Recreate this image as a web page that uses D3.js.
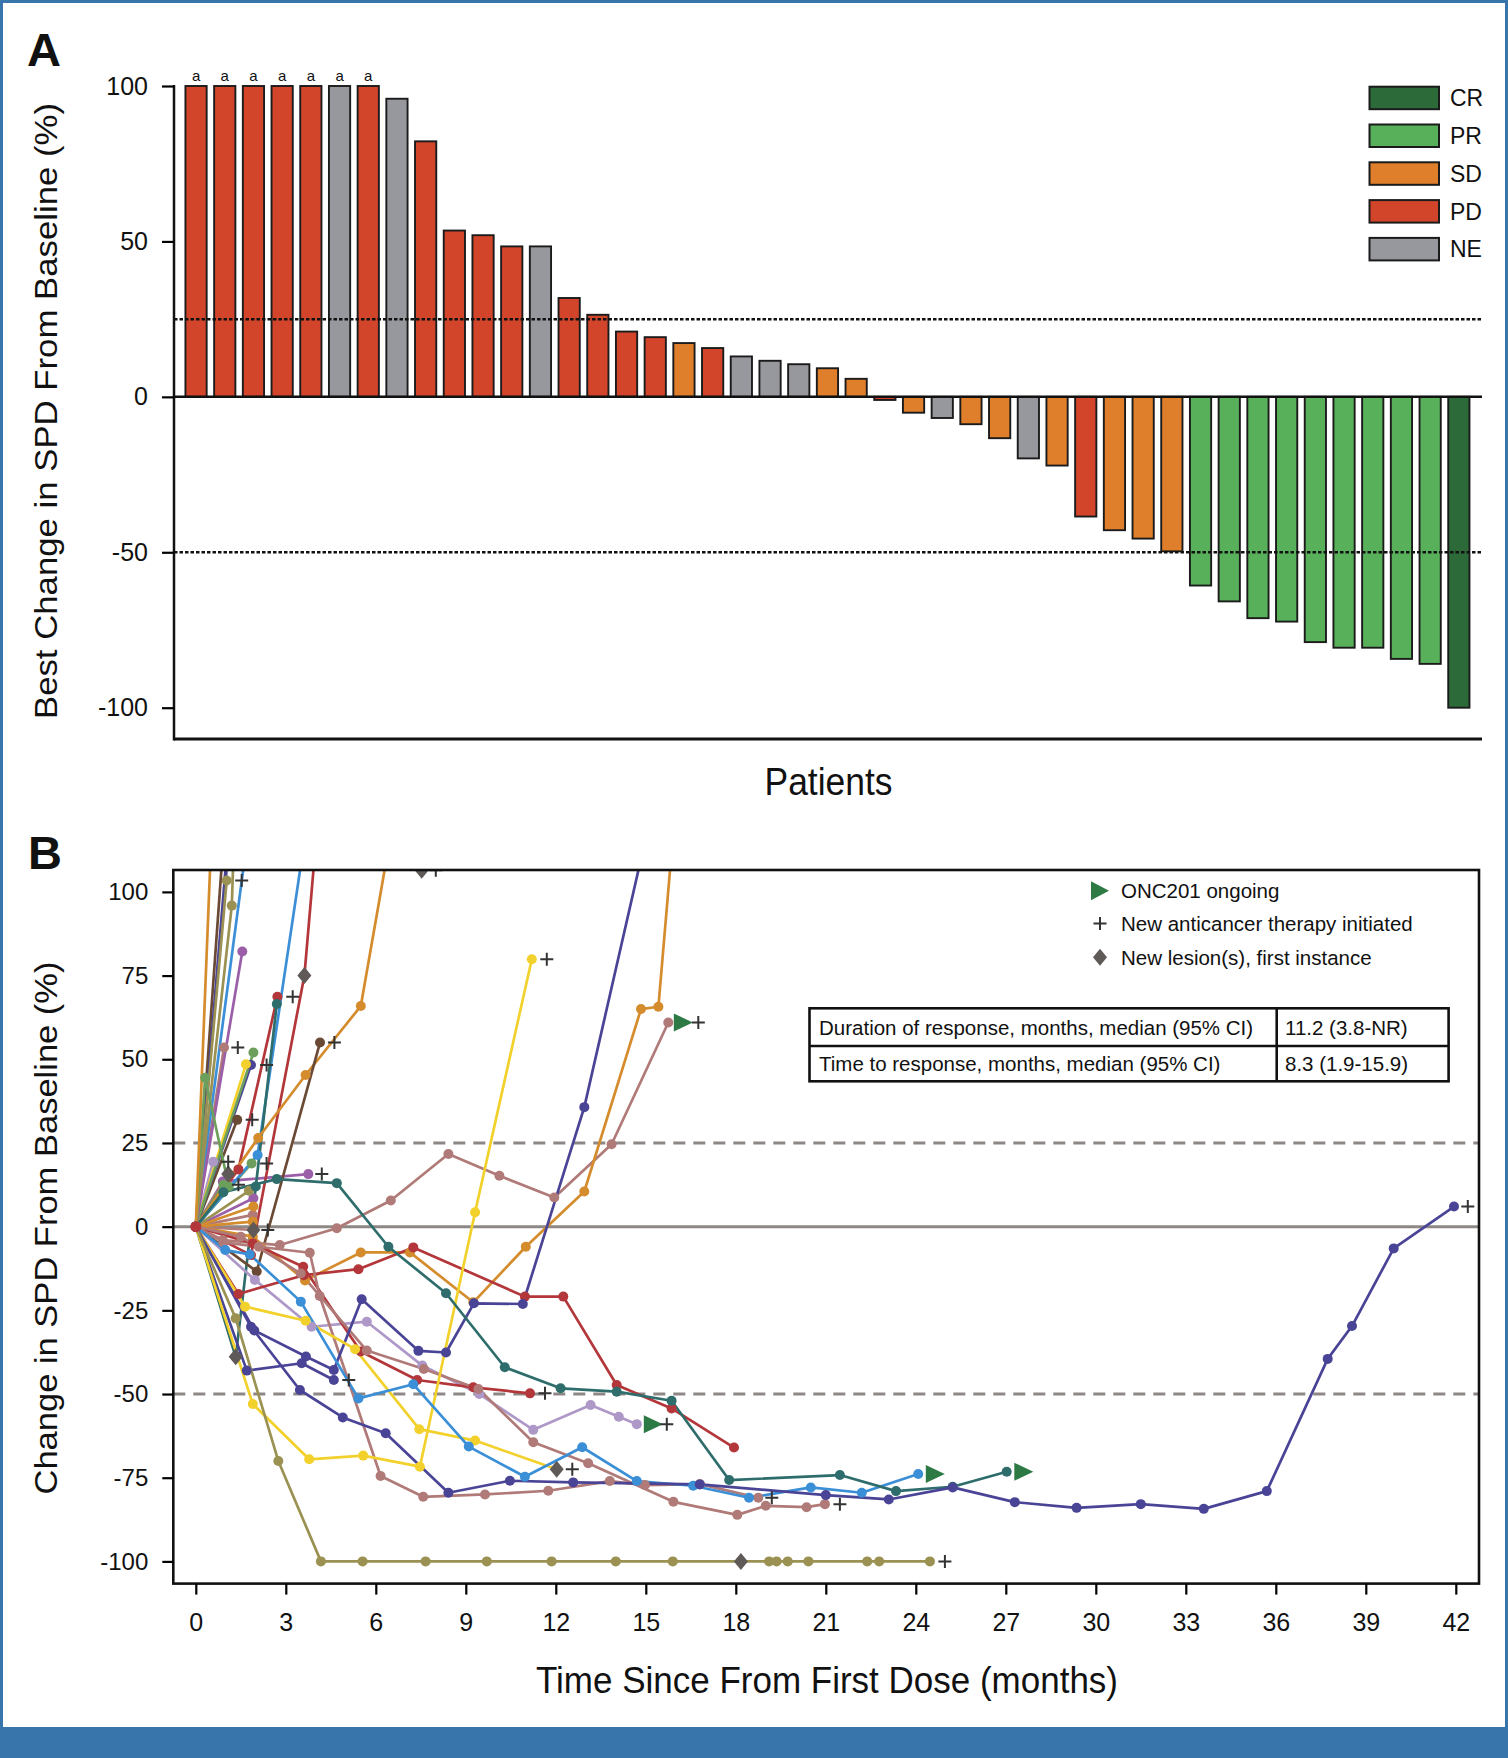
<!DOCTYPE html>
<html><head><meta charset="utf-8">
<script src="https://cdn.jsdelivr.net/npm/d3@7"></script>
<style>
body{margin:0;background:#fff}
svg{display:block}
text{font-family:"Liberation Sans",Arial,Helvetica,sans-serif;fill:#111}
</style>
</head><body>
<svg id="c" width="1508" height="1758"></svg>
<script>
// ---------------- Panel A data ----------------
const patientIds = d3.range(1, 46);
const bestChange = [100,100,100,100,100,100,100,95.9,82.2,53.5,52.0,48.4,48.4,31.8,26.4,21.0,19.2,17.3,15.7,13.0,
  11.6,10.5,9.2,5.8,-1.0,-5.1,-6.8,-8.8,-13.3,-19.8,-22.1,-38.5,-42.9,-45.6,-49.7,-60.7,-65.8,-71.2,-72.3,-78.9,
  -80.7,-80.7,-84.3,-85.9,-100];
const bestResponse = ["PD","PD","PD","PD","PD","NE","PD","NE","PD","PD","PD","PD","NE","PD","PD","PD","PD","SD","PD","NE",
  "NE","NE","SD","SD","PD","SD","NE","SD","SD","NE","SD","PD","SD","SD","SD","PR","PR","PR","PR","PR",
  "PR","PR","PR","PR","CR"];
const footnoteFlag = [1,1,1,1,1,1,1];
const responseCategories = ["CR","PR","SD","PD","NE"];
const responseColors = ["#2c6b39","#58b05a","#df7f2c","#d2452a","#97989d"];
const yTicksA = [100,50,0,-50,-100];
const thresholdsA = [25,-50];

// ---------------- Panel B data ----------------
const xTicksB = d3.range(0, 43, 3);
const yTicksB = [100,75,50,25,0,-25,-50,-75,-100];
const refDashedB = [25,-50];
const spiderColors = [
  "#9a9152","#4a4496","#2e6d6c","#3b8fd6","#f3d12c","#f3d12c","#4a4496","#4a4496","#b07a78","#b07a78",
  "#b3363a","#b3363a","#ae98c8","#d48c2d","#b07a78","#6b4a35","#d48c2d","#d48c2d","#6c9f5c","#2e6d6c",
  "#b3363a","#3b8fd6","#b3363a","#9a9152","#9a9152","#9b5ea8","#3b8fd6","#4a4496","#6b4a35","#4a4496",
  "#b07a78","#6c9f5c","#f3d12c","#4a4496","#6b4a35","#ae98c8","#6c9f5c","#6c9f5c","#b07a78","#9b5ea8",
  "#9a9152","#d48c2d","#d48c2d","#b07a78","#9b5ea8","#b07a78"
];
const spiderSeries = [
  [[0,0],[1.33,-27.4],[2.75,-70],[4.17,-100],[5.56,-100],[7.66,-100],[9.70,-100],[11.86,-100],[14.0,-100],[15.9,-100],[18.17,-100],[19.11,-100],[19.36,-100],[19.73,-100],[20.42,-100],[22.38,-100],[22.78,-100],[24.47,-100]],
  [[0,0],[1.84,-29.9],[3.47,-48.8],[4.9,-57],[6.33,-61.7],[8.42,-79.5],[10.47,-75.9],[12.58,-76.4],[16.8,-77.0],[21.0,-80.2],[23.1,-81.5],[25.23,-77.9],[27.3,-82.3],[29.36,-84],[31.5,-82.9],[33.6,-84.3],[35.7,-79],[37.73,-39.5],[38.54,-29.7],[39.93,-6.5],[41.94,6.0]],
  [[0,0],[0.92,10.3],[2.7,14.2],[4.7,13],[6.42,-6],[8.34,-19.9],[10.3,-42],[12.16,-48.3],[14.03,-49.3],[15.86,-52],[17.78,-75.7],[21.47,-74.2],[23.34,-79],[25.23,-77.7],[27.03,-73.2]],
  [[0,0],[0.98,-7],[1.8,-8.3],[3.5,-22.4],[5.42,-51.3],[7.25,-47.1],[9.1,-65.7],[10.97,-74.7],[12.88,-65.9],[14.7,-76],[16.58,-77.4],[18.44,-81],[20.5,-77.9],[22.2,-79.5],[24.08,-73.9]],
  [[0,0],[1.64,-23.9],[3.66,-28.1],[5.31,-36.6],[7.45,-60.5],[9.31,-63.9],[12.03,-72.5]],
  [[0,0],[1.9,-53],[3.78,-69.5],[5.58,-68.4],[7.47,-71.7],[9.31,4.3],[11.2,79.9]],
  [[0,0],[1.7,-43],[3.53,-40.8],[4.6,-45.8]],
  [[0,0],[1.95,-31],[3.67,-38.8],[4.6,-42.8],[5.53,-21.7],[7.42,-37.1],[8.34,-37.6],[9.27,-22.9],[10.9,-23.1],[12.95,35.7],[16.5,175]],
  [[0,0],[0.92,-4.7],[2.1,-6],[3.8,-7.8],[4.13,-20.7],[6.16,-74.5],[7.58,-80.7],[9.64,-80],[11.75,-78.9],[13.8,-76],[14.97,-77.2],[16.8,-76.9],[18.75,-81]],
  [[0,0],[1.5,-3],[3.5,-14],[5.7,-37],[7.6,-42.5],[9.42,-48.5],[11.25,-64.4],[13.08,-70.7],[15.92,-82.2],[18.05,-86.1],[19.0,-83.4],[20.36,-83.8],[20.97,-82.9]],
  [[0,0],[1.9,-5],[3.58,-12],[5.5,-37.3],[7.38,-45.8],[9.25,-48],[11.14,-49.8]],
  [[0,0],[1.42,-20.1],[3.6,-14.5],[5.42,-12.7],[7.25,-6.2],[10.97,-20.9],[12.25,-20.9],[14.03,-47.3],[15.86,-54.3],[17.94,-66]],
  [[0,0],[1.97,-15.9],[3.86,-29.9],[5.7,-28.4],[7.55,-41.5],[9.45,-50],[11.25,-60.7],[13.16,-53.3],[14.1,-56.8],[14.7,-59]],
  [[0,0],[1.9,-3],[3.64,-16.1],[5.5,-7.7],[7.14,-7.7],[9.25,-22.6],[11.0,-6],[12.95,10.5],[14.84,65],[15.42,65.7],[16.6,190]],
  [[0,0],[0.9,-4],[2.8,-5.5],[4.7,-0.5],[6.5,7.8],[8.42,21.7],[10.12,15.2],[11.95,8.7],[13.86,24.6],[15.75,61]],
  [[0,0],[2.03,-13.4],[4.14,55]],
  [[0,0],[2.08,26.5],[3.66,45.3],[5.5,65.9],[7.3,158]],
  [[0,0],[0.8,180]],
  [[0,0],[0.31,44.5],[1.1,12]],
  [[0,0],[1.33,-38.9],[2.0,12],[2.7,66.5]],
  [[0,0],[1.42,17.1],[2.72,68.7]],
  [[0,0],[2.06,21.4],[4.1,144]],
  [[0,0],[1.84,-8.5],[3.62,75],[4.3,146]],
  [[0,0],[1.03,103.4]],
  [[0,0],[1.2,95.9],[1.4,150]],
  [[0,0],[1.55,82.2]],
  [[0,0],[2.0,135]],
  [[0,0],[1.3,140]],
  [[0,0],[1.2,150]],
  [[0,0],[1.25,130]],
  [[0,0],[0.94,53.5]],
  [[0,0],[1.92,52]],
  [[0,0],[1.67,48.5]],
  [[0,0],[1.84,48.3]],
  [[0,0],[1.38,31.9]],
  [[0,0],[0.58,19.4]],
  [[0,0],[1.86,18.9]],
  [[0,0],[0.92,12.5]],
  [[0,0],[1.08,15.7]],
  [[0,0],[0.9,13.5],[3.75,15.7]],
  [[0,0],[1.77,10.7]],
  [[0,0],[1.92,6]],
  [[0,0],[1.9,1.5]],
  [[0,0],[1.92,-1]],
  [[0,0],[1.92,8.5]],
  [[0,0],[1.9,3.5]]
];
const ongoingPts = [[27.55,-73.2],[24.6,-73.9],[15.2,-59],[16.2,61]];
const newTherapyPts = [[24.97,-100],[42.4,6],[12.55,-72.5],[11.7,79.9],[5.1,-45.8],[19.2,-81],[21.47,-82.9],[11.64,-49.8],
  [15.7,-59],[16.75,61],[4.62,55],[3.23,68.7],[1.53,103.4],[1.4,53.5],[2.36,48.3],[1.88,31.9],[1.08,19.4],[2.36,18.9],
  [1.42,12.5],[4.2,15.7],[2.4,-1],[8.0,106.5]];
const newLesionPts = [[18.17,-100],[12.03,-72.5],[1.33,-38.9],[3.62,75],[1.08,15.7],[1.92,-1],[7.53,106.5]];
const legendB = ["ONC201 ongoing","New anticancer therapy initiated","New lesion(s), first instance"];
const tableRows = [["Duration of response, months, median (95% CI)","11.2 (3.8-NR)"],
                   ["Time to response, months, median (95% CI)","8.3 (1.9-15.9)"]];

// ---------------- Drawing ----------------
const FONT = '"Liberation Sans", Arial, Helvetica, sans-serif';
const svg = d3.select("#c");

// frame + footer band
svg.append("rect").attr("x",1.5).attr("y",1.5).attr("width",1505).attr("height",1740)
  .attr("fill","none").attr("stroke","#3775ab").attr("stroke-width",3);
svg.append("rect").attr("x",0).attr("y",1727).attr("width",1508).attr("height",31).attr("fill","#3775ab");

function styleAxis(g, fs){
  g.select(".domain").remove();
  g.selectAll(".tick line").attr("stroke","#000").attr("stroke-width",2.2);
  g.selectAll(".tick text").attr("font-size",fs).attr("font-family",FONT).attr("fill","#111");
}

// ===== Panel A =====
const xA = d3.scaleBand().domain(patientIds).range([181.7,1473.2]).paddingInner(0.26).paddingOuter(0.13);
const yA = d3.scaleLinear().domain([-100,100]).range([707.7,86]);
const colorA = d3.scaleOrdinal().domain(responseCategories).range(responseColors);
const gA = svg.append("g");

gA.selectAll("rect.bar").data(patientIds).join("rect").attr("class","bar")
  .attr("x", d => xA(d)).attr("width", xA.bandwidth())
  .attr("y", (d,i) => yA(Math.max(0, bestChange[i])))
  .attr("height", (d,i) => Math.abs(yA(bestChange[i]) - yA(0)))
  .attr("fill", (d,i) => colorA(bestResponse[i]))
  .attr("stroke","#1b1b1b").attr("stroke-width",1.9);

gA.selectAll("text.fn").data(footnoteFlag).join("text").attr("class","fn")
  .attr("x",(d,i)=> xA(patientIds[i]) + xA.bandwidth()/2).attr("y",81)
  .attr("text-anchor","middle").attr("font-size",15).text("a");

gA.selectAll("line.thr").data(thresholdsA).join("line").attr("class","thr")
  .attr("x1",174).attr("x2",1482).attr("y1",d=>yA(d)).attr("y2",d=>yA(d))
  .attr("stroke","#111").attr("stroke-width",2.5).attr("stroke-dasharray","3.5,2");
gA.append("line").attr("x1",174).attr("x2",1482).attr("y1",yA(0)).attr("y2",yA(0))
  .attr("stroke","#111").attr("stroke-width",2.5);
gA.append("line").attr("x1",174).attr("x2",1482).attr("y1",739).attr("y2",739)
  .attr("stroke","#111").attr("stroke-width",3);
gA.append("line").attr("x1",174).attr("x2",174).attr("y1",yA(100)-1).attr("y2",740.5)
  .attr("stroke","#111").attr("stroke-width",2.5);
gA.append("g").attr("transform","translate(174,0)")
  .call(d3.axisLeft(yA).tickValues(yTicksA).tickSize(12).tickPadding(14).tickFormat(d=>String(d)))
  .call(styleAxis, 25);

// legend A
const legA = gA.append("g");
responseCategories.forEach((c,i)=>{
  const y0 = 86.7 + i*37.8;
  legA.append("rect").attr("x",1369.5).attr("y",y0).attr("width",69.5).attr("height",22.5)
    .attr("fill",responseColors[i]).attr("stroke","#1b1b1b").attr("stroke-width",2);
  legA.append("text").attr("x",1450).attr("y",y0+11.25).attr("dy","0.36em").attr("font-size",23).text(c);
});

// titles A
svg.append("text").attr("x",27).attr("y",66).attr("font-size",47).attr("font-weight","bold").text("A");
svg.append("text").attr("transform","translate(57,411) rotate(-90)").attr("text-anchor","middle")
  .attr("font-size",32).attr("textLength",616).attr("lengthAdjust","spacingAndGlyphs")
  .text("Best Change in SPD From Baseline (%)");
svg.append("text").attr("x",828.5).attr("y",795).attr("text-anchor","middle")
  .attr("font-size",38).attr("textLength",128).attr("lengthAdjust","spacingAndGlyphs").text("Patients");

// ===== Panel B =====
const xB = d3.scaleLinear().domain([0,42]).range([195.8,1455.8]);
const yB = d3.scaleLinear().domain([-100,100]).range([1561.4,891.9]);
const PL = 173.3, PR = 1479, PT = 870, PB = 1583.6;
const gB = svg.append("g");
svg.append("defs").append("clipPath").attr("id","clipB").append("rect")
  .attr("x",PL).attr("y",PT).attr("width",PR-PL).attr("height",PB-PT);

// reference lines
gB.append("line").attr("x1",PL).attr("x2",PR).attr("y1",yB(0)).attr("y2",yB(0))
  .attr("stroke","#8d8885").attr("stroke-width",3);
gB.selectAll("line.refd").data(refDashedB).join("line").attr("class","refd")
  .attr("x1",PL).attr("x2",PR).attr("y1",d=>yB(d)).attr("y2",d=>yB(d))
  .attr("stroke","#8d8885").attr("stroke-width",3).attr("stroke-dasharray","12,8");

const plot = gB.append("g").attr("clip-path","url(#clipB)");
const line = d3.line().x(d=>xB(d[0])).y(d=>yB(d[1]));
const order = d3.range(spiderSeries.length).reverse();
order.forEach(i=>{
  plot.append("path").attr("d", line(spiderSeries[i])).attr("fill","none")
    .attr("stroke", spiderColors[i]).attr("stroke-width",2.7).attr("stroke-linejoin","round");
});
order.forEach(i=>{
  plot.selectAll(null).data(spiderSeries[i]).join("circle")
    .attr("cx",d=>xB(d[0])).attr("cy",d=>yB(d[1])).attr("r",5).attr("fill",spiderColors[i]);
});
plot.append("circle").attr("cx",xB(0)).attr("cy",yB(0)).attr("r",5.5).attr("fill","#b3363a");

// markers
const triPath = "M-8,-9L11,0L-8,9Z";
const plusPath = "M-6.5,0H6.5M0,-6.5V6.5";
const diamondPath = "M0,-8.5L7,0L0,8.5L-7,0Z";
plot.selectAll("path.dia").data(newLesionPts).join("path").attr("class","dia")
  .attr("transform",d=>`translate(${xB(d[0])},${yB(d[1])})`).attr("d",diamondPath).attr("fill","#5f5a57");
plot.selectAll("path.tri").data(ongoingPts).join("path").attr("class","tri")
  .attr("transform",d=>`translate(${xB(d[0])},${yB(d[1])})`).attr("d",triPath).attr("fill","#2e7a45");
plot.selectAll("path.plus").data(newTherapyPts).join("path").attr("class","plus")
  .attr("transform",d=>`translate(${xB(d[0])},${yB(d[1])})`).attr("d",plusPath)
  .attr("stroke","#333").attr("stroke-width",2).attr("fill","none");

// frame
gB.append("rect").attr("x",PL).attr("y",PT).attr("width",PR-PL).attr("height",PB-PT)
  .attr("fill","none").attr("stroke","#111").attr("stroke-width",2.6);

// axes
gB.append("g").attr("transform",`translate(${PL},0)`)
  .call(d3.axisLeft(yB).tickValues(yTicksB).tickSize(11).tickPadding(14).tickFormat(d=>String(d)))
  .call(styleAxis, 24);
gB.append("g").attr("transform",`translate(0,${PB})`)
  .call(d3.axisBottom(xB).tickValues(xTicksB).tickSize(11).tickPadding(19).tickFormat(d=>String(d)))
  .call(styleAxis, 25);

// legend B
const legB = gB.append("g");
const legY = [890.7, 923.5, 957.3];
legB.append("path").attr("transform",`translate(1099,${legY[0]})`).attr("d","M-8,-9.5L10,0L-8,9.5Z").attr("fill","#2e7a45");
legB.append("path").attr("transform",`translate(1100,${legY[1]})`).attr("d",plusPath).attr("stroke","#333").attr("stroke-width",2);
legB.append("path").attr("transform",`translate(1100,${legY[2]})`).attr("d",diamondPath).attr("fill","#5f5a57");
legendB.forEach((t,i)=>{
  legB.append("text").attr("x",1121).attr("y",legY[i]).attr("dy","0.36em").attr("font-size",20.5).text(t);
});

// table
const tb = gB.append("g");
const tX0 = 809.5, tX1 = 1448.6, tXm = 1276.7, tY = [1008.3, 1046, 1081.3];
tb.append("rect").attr("x",tX0).attr("y",tY[0]).attr("width",tX1-tX0).attr("height",tY[2]-tY[0])
  .attr("fill","#fff").attr("stroke","#111").attr("stroke-width",2.6);
tb.append("line").attr("x1",tX0).attr("x2",tX1).attr("y1",tY[1]).attr("y2",tY[1]).attr("stroke","#111").attr("stroke-width",2.6);
tb.append("line").attr("x1",tXm).attr("x2",tXm).attr("y1",tY[0]).attr("y2",tY[2]).attr("stroke","#111").attr("stroke-width",2.6);
tableRows.forEach((r,i)=>{
  const cy = (tY[i]+tY[i+1])/2;
  tb.append("text").attr("x",819).attr("y",cy).attr("dy","0.36em").attr("font-size",20.5).text(r[0]);
  tb.append("text").attr("x",1285).attr("y",cy).attr("dy","0.36em").attr("font-size",20.5).text(r[1]);
});

// titles B
svg.append("text").attr("x",28).attr("y",869).attr("font-size",47).attr("font-weight","bold").text("B");
svg.append("text").attr("transform","translate(57,1228) rotate(-90)").attr("text-anchor","middle")
  .attr("font-size",32).attr("textLength",533).attr("lengthAdjust","spacingAndGlyphs")
  .text("Change in SPD From Baseline (%)");
svg.append("text").attr("x",827).attr("y",1693).attr("text-anchor","middle")
  .attr("font-size",36).attr("textLength",582).attr("lengthAdjust","spacingAndGlyphs")
  .text("Time Since From First Dose (months)");
</script>
</body></html>
